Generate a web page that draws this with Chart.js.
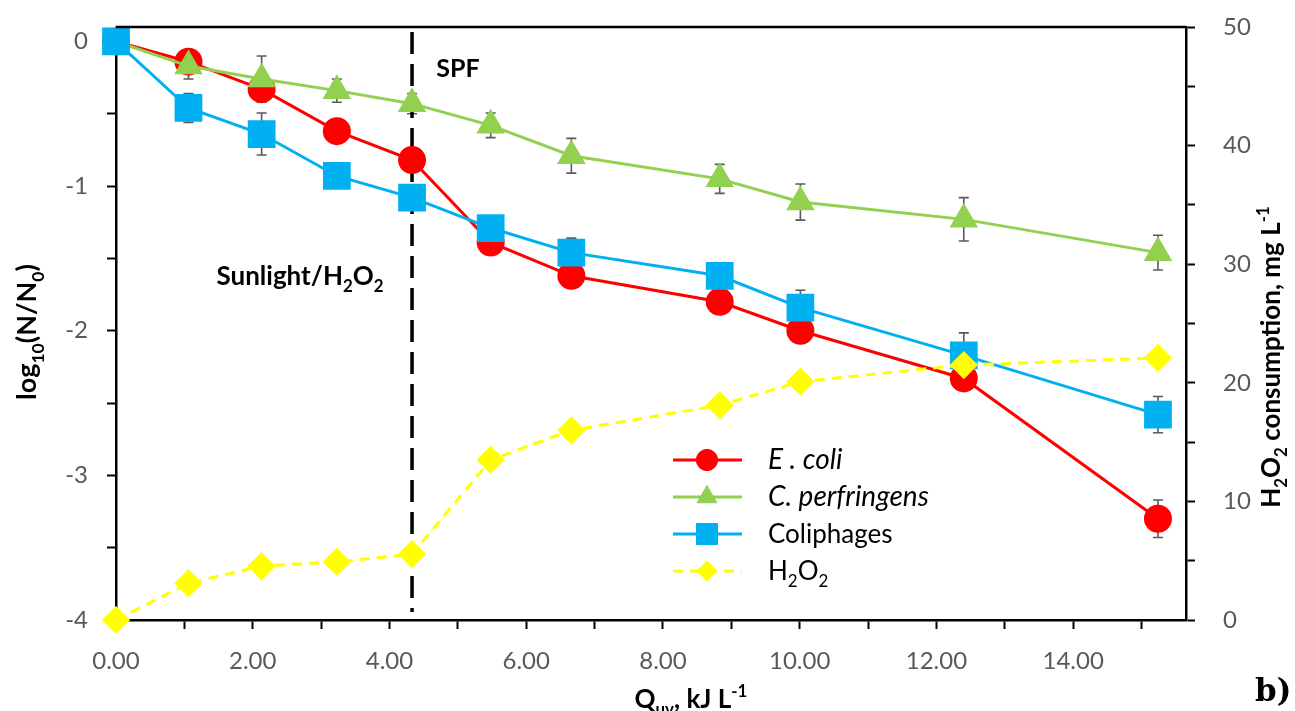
<!DOCTYPE html>
<html>
<head>
<meta charset="utf-8">
<script src="https://cdn.jsdelivr.net/npm/chart.js@4.4.0/dist/chart.umd.min.js"></script>
<style>
  body { margin: 0; background: #fff; }
  #wrap { width: 1295px; height: 711px; }
</style>
</head>
<body>
<div id="wrap"><canvas id="uv-chart" width="1295" height="711"></canvas></div>
<script>
// dose values (x), kJ/L
const qUv = [0, 1.06, 2.13, 3.23, 4.33, 5.48, 6.66, 8.83, 10.01, 12.40, 15.24]

// log10(N/N0)
const ecoli = [0, -0.14, -0.33, -0.62, -0.82, -1.39, -1.62, -1.80, -2.00, -2.33, -3.30]
const cperf = [0, -0.17, -0.26, -0.34, -0.43, -0.58, -0.79, -0.95, -1.11, -1.23, -1.46]
const coliph = [0, -0.46, -0.64, -0.93, -1.08, -1.29, -1.46, -1.62, -1.84, -2.17, -2.58]

// error bars (+/-)
const ecoliErr = [0, 0.03, 0.03, 0.03, 0.03, 0.03, 0.03, 0.03, 0.03, 0.05, 0.13]
const cperfErr = [0, 0.09, 0.16, 0.08, 0.07, 0.085, 0.12, 0.10, 0.125, 0.15, 0.12]
const coliphErr = [0, 0.10, 0.145, 0.085, 0.04, 0.05, 0.10, 0.05, 0.12, 0.155, 0.125]

// H2O2 consumption, mg/L (right axis)
const h2o2 = [0, 3.1, 4.55, 4.9, 5.56, 13.5, 16.0, 18.1, 20.1, 21.5, 22.1]

const spfStart = 4.33

const xTicks = { min: 0, max: 15.65, step: 1 }
const yTicks = { min: -4, max: 0.1, step: 0.5 }
const y2Ticks = { min: 0, max: 50, step: 5 }

const FONT = "Lato, 'Open Sans', sans-serif"

function pts(ys) {
    return qUv.map((x, i) => ({ x: x, y: ys[i] }))
}

// draws text with sub/superscript pieces, centered on (x, y) baseline
function drawRich(ctx, parts, x, y, size, weight, align) {
    let sizeOf = p => (p.sub || p.sup ? size * 0.65 : (p.size || size))
    let widths = parts.map(p => {
        ctx.font = (p.italic ? "italic " : "") + weight + " " + sizeOf(p) + "px " + FONT
        return ctx.measureText(p.t).width
    })
    let total = widths.reduce((a, b) => a + b, 0)
    let cx = align === "left" ? x : x - total / 2
    ctx.textAlign = "left"
    ctx.textBaseline = "alphabetic"
    parts.forEach((p, i) => {
        let dy = p.sub ? size * 0.28 : (p.sup ? -size * 0.42 : 0)
        ctx.font = (p.italic ? "italic " : "") + weight + " " + sizeOf(p) + "px " + FONT
        ctx.fillText(p.t, cx, y + dy)
        cx += widths[i]
    })
}

const errorBars = {
    id: "errorBars",
    beforeDatasetsDraw(chart) {
        let ctx = chart.ctx
        ctx.save()
        ctx.strokeStyle = "#595959"
        ctx.lineWidth = 1.6
        chart.data.datasets.forEach((ds, di) => {
            if (!ds.errors) return
            let ys = chart.scales[ds.yAxisID]
            ds.data.forEach((p, i) => {
                let e = ds.errors[i]
                if (!e) return
                let px = chart.scales.x.getPixelForValue(p.x)
                let top = ys.getPixelForValue(p.y + e)
                let bot = ys.getPixelForValue(p.y - e)
                ctx.beginPath()
                ctx.moveTo(px, top); ctx.lineTo(px, bot)
                ctx.moveTo(px - 5, top); ctx.lineTo(px + 5, top)
                ctx.moveTo(px - 5, bot); ctx.lineTo(px + 5, bot)
                ctx.stroke()
            })
        })
        ctx.restore()
    }
}

const decorations = {
    id: "decorations",
    beforeDatasetsDraw(chart) {
        let ctx = chart.ctx
        let a = chart.chartArea
        let xs = chart.scales.x
        ctx.save()
        // SPF start line
        let lx = xs.getPixelForValue(spfStart)
        ctx.strokeStyle = "#000"
        ctx.lineWidth = 3.5
        ctx.setLineDash([22, 10])
        ctx.beginPath()
        ctx.moveTo(lx, a.top + 5)
        ctx.lineTo(lx, a.bottom - 8)
        ctx.stroke()
        ctx.restore()
    },
    afterDraw(chart) {
        let ctx = chart.ctx
        let a = chart.chartArea
        ctx.save()
        // top frame line
        ctx.strokeStyle = "#000"
        ctx.lineWidth = 2.5
        ctx.beginPath()
        ctx.moveTo(a.left, a.top)
        ctx.lineTo(a.right, a.top)
        ctx.stroke()

        ctx.fillStyle = "#000"
        drawRich(ctx, [{ t: "SPF" }], 458, 77, 25, "bold")
        drawRich(ctx, [{ t: "Sunlight/H" }, { t: "2", sub: true }, { t: "O" }, { t: "2", sub: true }], 300, 285, 26, "bold")

        // axis titles
        ctx.save()
        ctx.translate(36, 332)
        ctx.rotate(-Math.PI / 2)
        drawRich(ctx, [{ t: "log" }, { t: "10", sub: true }, { t: "(N/N" }, { t: "0", sub: true }, { t: ")" }], 0, 0, 27, "bold")
        ctx.restore()

        ctx.save()
        ctx.translate(1280, 357)
        ctx.rotate(-Math.PI / 2)
        drawRich(ctx, [{ t: "H" }, { t: "2", sub: true }, { t: "O" }, { t: "2", sub: true }, { t: " consumption, mg L" }, { t: "-1", sup: true }], 0, 0, 26, "bold")
        ctx.restore()

        drawRich(ctx, [{ t: "Q" }, { t: "uv", sub: true }, { t: ", kJ L" }, { t: "-1", sup: true }], 691, 708, 26, "bold")

        ctx.font = "bold 31px 'DejaVu Serif', serif"
        ctx.textAlign = "left"
        ctx.fillText("b)", 1255, 701)

        // legend
        let rows = [
            { ds: 0, y: 460, parts: [{ t: "E . coli", italic: true, size: 28 }] },
            { ds: 1, y: 497, parts: [{ t: "C. perfringens", italic: true, size: 28 }] },
            { ds: 2, y: 534, parts: [{ t: "Coliphages" }] },
            { ds: 3, y: 571, parts: [{ t: "H" }, { t: "2", sub: true }, { t: "O" }, { t: "2", sub: true }] },
        ]
        rows.forEach(r => {
            let ds = chart.data.datasets[r.ds]
            ctx.save()
            ctx.strokeStyle = ds.borderColor
            ctx.lineWidth = ds.borderWidth
            ctx.setLineDash(ds.borderDash || [])
            ctx.beginPath()
            ctx.moveTo(673, r.y)
            ctx.lineTo(742, r.y)
            ctx.stroke()
            ctx.setLineDash([])
            ctx.fillStyle = ds.pointBackgroundColor
            ctx.strokeStyle = ds.pointBackgroundColor
            ctx.lineWidth = 1
            Chart.helpers.drawPoint(ctx, { pointStyle: ds.pointStyle, radius: ds.pointRadius * 0.85, borderWidth: 1 }, 707, r.y)
            ctx.restore()
            ctx.fillStyle = "#000"
            drawRich(ctx, r.parts, 768, r.y + 9, 26, "normal", "left")
        })
        ctx.restore()
    }
}

function axisCommon(extra) {
    return Object.assign({
        grid: { drawOnChartArea: false, drawTicks: true, tickLength: 9, tickColor: "#000", tickWidth: 2 },
        border: { color: "#000", width: 2.5 },
    }, extra)
}

// keep label overflow from pushing the plot area around
function noPad(s) {
    s.paddingTop = 0
    s.paddingBottom = 0
    s.paddingLeft = 0
    s.paddingRight = 0
}

let config = {
    type: "line",
    data: {
        datasets: [
            {
                label: "E . coli", data: pts(ecoli), errors: ecoliErr, yAxisID: "y", order: 4, clip: false,
                borderColor: "#FF0000", borderWidth: 3, pointStyle: "circle", pointRadius: 12.5,
                pointBackgroundColor: "#FF0000", pointBorderColor: "#FF0000",
            },
            {
                label: "C. perfringens", data: pts(cperf), errors: cperfErr, yAxisID: "y", order: 3, clip: false,
                borderColor: "#92D050", borderWidth: 3, pointStyle: "triangle", pointRadius: 13.5,
                pointBackgroundColor: "#92D050", pointBorderColor: "#92D050",
            },
            {
                label: "Coliphages", data: pts(coliph), errors: coliphErr, yAxisID: "y", order: 2, clip: false,
                borderColor: "#00B0F0", borderWidth: 3, pointStyle: "rect", pointRadius: 17.5,
                pointBackgroundColor: "#00B0F0", pointBorderColor: "#00B0F0",
            },
            {
                label: "H2O2", data: pts(h2o2), yAxisID: "y2", order: 1, clip: false,
                borderColor: "#FFFF00", borderWidth: 3, borderDash: [10, 7], pointStyle: "rectRot", pointRadius: 12,
                pointBackgroundColor: "#FFFF00", pointBorderColor: "#FFFF00",
            },
        ]
    },
    options: {
        responsive: false,
        animation: false,
        devicePixelRatio: 1,
        layout: { padding: { top: 27, left: 0, right: 0, bottom: 0 } },
        plugins: { legend: { display: false }, tooltip: { enabled: false } },
        elements: { line: { tension: 0 }, point: { borderWidth: 1 } },
        scales: {
            x: axisCommon({
                type: "linear", position: "bottom", min: xTicks.min, max: xTicks.max,
                ticks: {
                    stepSize: xTicks.step, includeBounds: false, autoSkip: false, maxRotation: 0,
                    color: "#595959", font: { family: FONT, size: 24 }, padding: 18,
                    callback: v => (Math.round(v) % 2 === 0 ? v.toFixed(2) : "")
                },
                afterFit: s => { s.height = 91; noPad(s) }
            }),
            y: axisCommon({
                type: "linear", position: "left", min: yTicks.min, max: yTicks.max,
                ticks: {
                    stepSize: yTicks.step, includeBounds: false, autoSkip: false,
                    color: "#595959", font: { family: FONT, size: 24 }, padding: 19,
                    callback: v => (Number.isInteger(v) ? String(v) : "")
                },
                afterFit: s => { s.width = 116; noPad(s) }
            }),
            y2: axisCommon({
                type: "linear", position: "right", min: y2Ticks.min, max: y2Ticks.max,
                ticks: {
                    stepSize: y2Ticks.step, includeBounds: false, autoSkip: false,
                    color: "#595959", font: { family: FONT, size: 24 }, padding: 28,
                    callback: v => (v % 10 === 0 ? String(v) : "")
                },
                afterFit: s => { s.width = 109; noPad(s) }
            }),
        }
    },
    plugins: [errorBars, decorations]
}

let crt = new Chart(document.querySelector("#uv-chart"), config)
</script>
</body>
</html>
